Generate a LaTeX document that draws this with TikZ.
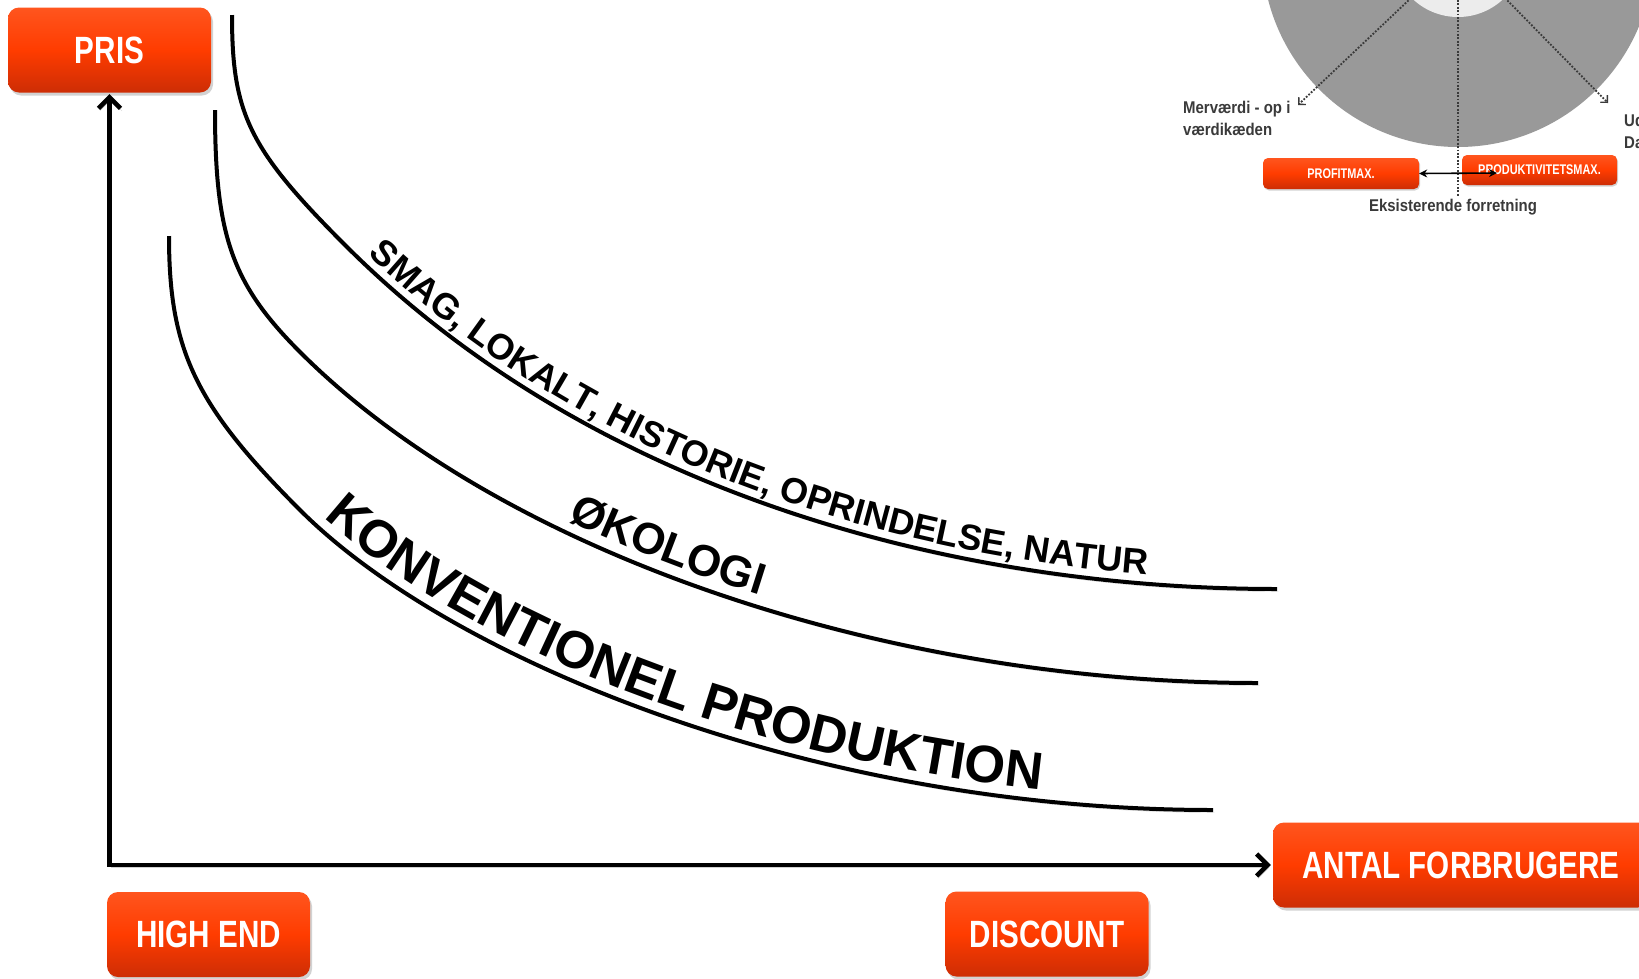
\documentclass[tikz,border=0pt]{standalone}
\usepackage{fontspec}
\setmainfont{Liberation Sans}
\newfontfamily\narrowfont[FakeStretch=0.78]{Liberation Sans}
\newfontfamily\insetfont[FakeStretch=0.88]{Liberation Sans}
\newfontfamily\arialfont{Liberation Sans}
\usetikzlibrary{arrows.meta,decorations.text,shadows}

\definecolor{boxmain}{RGB}{255,60,0}
\definecolor{boxtop}{RGB}{255,85,30}
\definecolor{boxbot}{RGB}{205,45,5}
\definecolor{diskgray}{RGB}{153,153,153}
\definecolor{innergray}{RGB}{236,236,236}
\definecolor{labelgray}{RGB}{58,58,58}

\newcommand{\smagfont}{\arialfont\bfseries\fontsize{36}{36}\selectfont}
\newcommand{\okofont}{\arialfont\bfseries\fontsize{44}{44}\selectfont}
\newcommand{\konvfont}{\arialfont\bfseries\fontsize{52.5}{52.5}\selectfont}

\begin{document}
\begin{tikzpicture}[x=1pt,y=-1pt,
  obase/.style={top color=boxtop, bottom color=boxbot, middle color=boxmain,
    text=white, inner sep=0pt},
  bigbox/.style={obase, rounded corners=11pt, minimum width=203pt, minimum height=85pt,
    font=\narrowfont\bfseries\fontsize{38}{38}\selectfont,
    drop shadow={shadow xshift=2pt, shadow yshift=-3pt, opacity=0.35}},
  smallbox/.style={obase, rounded corners=5pt, minimum width=156pt, minimum height=31pt,
    font=\narrowfont\bfseries\fontsize{14}{14}\selectfont,
    drop shadow={shadow xshift=1pt, shadow yshift=-1.5pt, opacity=0.35}},
  axisline/.style={line width=4.5pt, line join=miter,
    preaction={draw=black, opacity=0.18, transform canvas={xshift=1.5pt, yshift=-2.5pt}}},
  curveline/.style={line width=4pt, line cap=butt,
    preaction={draw=black, opacity=0.18, transform canvas={xshift=1.5pt, yshift=-2.5pt}}},
  dotline/.style={labelgray, line width=1.8pt, dash pattern=on 1.8pt off 1.6pt},
  insetlabel/.style={text=labelgray, font=\insetfont\bfseries\fontsize{17}{17}\selectfont, inner sep=0pt}
]
\useasboundingbox (0,0) rectangle (1639,978);
\clip (0,0) rectangle (1639,978);
\fill[white] (0,0) rectangle (1639,978);

% ---------- inset (top right) ----------
\fill[diskgray] (1458,-49) circle[radius=196pt];
\fill[innergray] (1458,-49) circle[radius=66pt];
\coordinate (dlA) at (1411,-2);
\coordinate (dlB) at (1298,105);
\coordinate (drA) at (1505,-2);
\coordinate (drB) at (1608,103);
\coordinate (vtop) at (1458,0);
\coordinate (vbot) at (1458,197);
\draw[dotline, -{Straight Barb[length=5pt,width=10pt,line width=1.4pt]}] (dlA) -- (dlB);
\draw[dotline, -{Straight Barb[length=5pt,width=10pt,line width=1.4pt]}] (drA) -- (drB);
\draw[dotline] (vtop) -- (vbot);

\node[insetlabel, anchor=base west] (mv1) at (1183,113) {Merværdi - op i};
\node[insetlabel, anchor=base west] (mv2) at (1183,135) {værdikæden};
\node[insetlabel, anchor=base west] (ud1) at (1624,126) {Ud};
\node[insetlabel, anchor=base west] (ud2) at (1624,148) {Da};

\node[smallbox] (pm) at (1341,173.5) {PROFITMAX.};
\node[smallbox, minimum width=155pt, minimum height=30pt] (pd) at (1539.5,170) {PRODUKTIVITETSMAX.};
\coordinate (pdend) at (1497,173);
\draw[line width=1.6pt, {Stealth[length=8pt,width=8pt]}-{Stealth[length=8pt,width=8pt]}] (pm.east) -- (pdend);
\node[insetlabel, anchor=base] (eks) at (1453,211) {Eksisterende forretning};

% ---------- boxes ----------
\node[bigbox] (pris) at (109.5,50) {PRIS};
\node[bigbox] (high) at (208.5,934.5) {HIGH END};
\node[bigbox] (disc) at (1047,934) {DISCOUNT};
\node[bigbox, minimum width=376pt] (antal) at (1461,865) {ANTAL FORBRUGERE};

% ---------- axes ----------
\draw[axisline, {Straight Barb[length=11pt,width=22pt]}-{Straight Barb[length=11pt,width=22pt]},
  shorten <=1.5pt, shorten >=2pt] (pris.south) |- (antal.west);

% ---------- curves with labels ----------
\draw[curveline, postaction={decorate, decoration={text along path,
    text={|\smagfont|SMAG, LOKALT, HISTORIE, OPRINDELSE, NATUR},
    raise=9pt, text align={left indent=290pt}}}]
  (232,15) .. controls (232,114) and (249,149) .. (345,245)
           .. controls (593,493) and (954,589) .. (1277,589);

\draw[curveline, postaction={decorate, decoration={text along path,
    text={|\okofont|ØKOLOGI},
    raise=12pt, text align={left indent=585pt}}}]
  (215,110) .. controls (215,236) and (232,284) .. (300,352)
            .. controls (499,551) and (882,683) .. (1258,683);

\draw[curveline, postaction={decorate, decoration={text along path,
    text={|\konvfont|KONVENTIONEL PRODUKTION},
    raise=11pt, text align={left indent=337pt}}}]
  (169,236) .. controls (169,350) and (195,405) .. (300,510)
            .. controls (450,660) and (815,810) .. (1213,810);
\end{tikzpicture}
\end{document}
